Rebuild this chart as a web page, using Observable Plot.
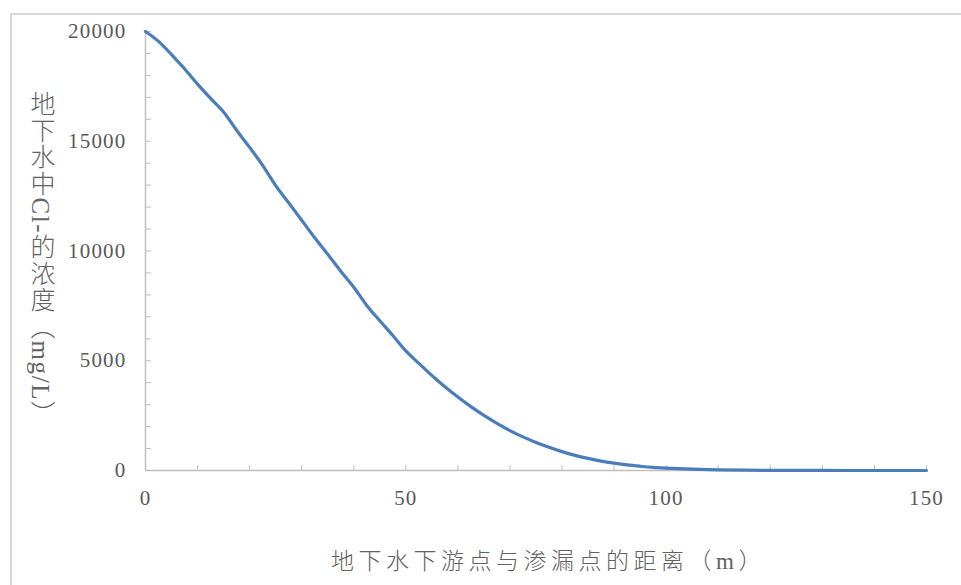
<!DOCTYPE html>
<html><head><meta charset="utf-8">
<script src="https://cdn.jsdelivr.net/npm/d3@7"></script>
<script src="https://cdn.jsdelivr.net/npm/@observablehq/plot@0.6"></script>
<style>
body{margin:0;background:#fff;}
#wrap{position:relative;width:961px;height:585px;overflow:hidden;background:#fff;}
#frame{position:absolute;left:10px;top:13px;width:1000px;height:1000px;border-left:2px solid #d9d9d9;border-top:2px solid #d9d9d9;}
#chart{position:absolute;left:0;top:0;}
#chart svg text{letter-spacing:1.2px;}
#ytitle{position:absolute;left:28px;top:91px;writing-mode:vertical-rl;text-orientation:mixed;font-family:"Liberation Serif","Noto Sans CJK SC";font-weight:300;font-size:25px;line-height:25px;letter-spacing:1.6px;color:#626262;white-space:nowrap;}
#xtitle{position:absolute;left:331px;top:542px;font-family:"Liberation Serif","Noto Sans CJK SC";font-weight:300;font-size:23px;letter-spacing:4.5px;color:#626262;white-space:nowrap;}
</style></head>
<body>
<div id="wrap">
  <div id="frame"></div>
  <div id="chart"></div>
  <div id="ytitle">地下水中Cl-的浓度（mg/L）</div>
  <div id="xtitle">地下水下游点与渗漏点的距离（m）</div>
</div>
<script>
const distance = [0, 2.5, 5, 7.5, 10, 12.5, 15, 17.5, 20, 22.5, 25, 27.5, 30, 32.5, 35, 37.5, 40, 42.5, 45, 47.5, 50, 52.5, 55, 57.5, 60, 62.5, 65, 67.5, 70, 72.5, 75, 77.5, 80, 82.5, 85, 87.5, 90, 92.5, 95, 97.5, 100, 105, 110, 115, 120, 130, 140, 150];
const concentration = [20000, 19550, 18950, 18300, 17600, 16950, 16330, 15500, 14720, 13900, 12980, 12200, 11400, 10600, 9850, 9080, 8350, 7520, 6820, 6150, 5450, 4880, 4330, 3820, 3350, 2910, 2510, 2150, 1820, 1530, 1280, 1060, 860, 690, 550, 430, 335, 255, 195, 145, 110, 60, 30, 15, 8, 2, 0, 0];
const xTickLabels = [0, 50, 100, 150];
const xMinorTicks = [10, 20, 30, 40, 50, 60, 70, 80, 90, 100, 110, 120, 130, 140, 150];
const yTickLabels = [0, 5000, 10000, 15000, 20000];
const yMinorTicks = d3.range(1000, 20001, 1000);

const data = distance.map((d, i) => ({d, c: concentration[i]}));
const axisColor = "#bfbfbf";

const chart = Plot.plot({
  width: 961,
  height: 585,
  marginLeft: 145,
  marginRight: 35,
  marginTop: 31,
  marginBottom: 115,
  style: {fontFamily: "'Liberation Serif', serif", fontSize: "21px", color: "#595959", background: "transparent"},
  x: {domain: [0, 150]},
  y: {domain: [0, 20000]},
  marks: [
    Plot.axisY(yMinorTicks, {tickSize: -6, tickFormat: () => "", stroke: axisColor, label: null}),
    Plot.axisY(yTickLabels, {tickSize: 0, tickPadding: 19, tickFormat: d => String(d), fill: "#595959", label: null}),
    Plot.axisX(xMinorTicks, {tickSize: -5, tickFormat: () => "", stroke: axisColor, label: null}),
    Plot.axisX(xTickLabels, {tickSize: 0, tickPadding: 20, tickFormat: d => String(d), fill: "#595959", label: null}),
    Plot.ruleX([0], {stroke: axisColor, strokeWidth: 1.5}),
    Plot.ruleY([0], {stroke: axisColor, strokeWidth: 1.5}),
    Plot.line(data, {x: "d", y: "c", stroke: "#4a7ebb", strokeWidth: 3.2, curve: "monotone-x"})
  ]
});
document.getElementById("chart").appendChild(chart);
</script>
</body></html>
